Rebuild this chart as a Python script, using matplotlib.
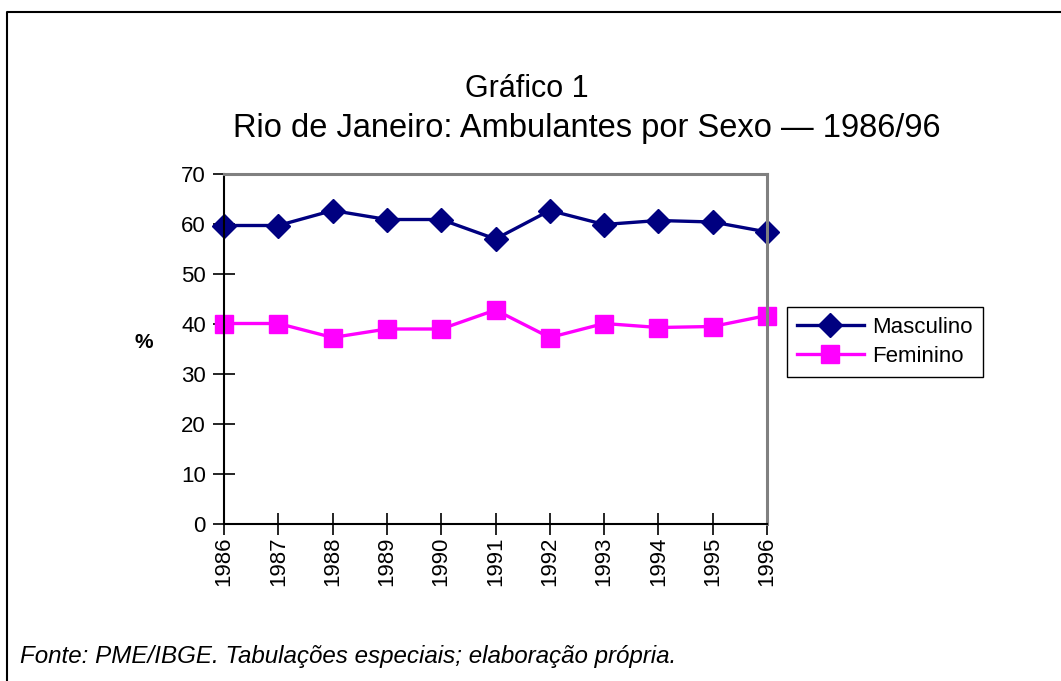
import matplotlib
matplotlib.use("Agg")
import matplotlib.pyplot as plt
from matplotlib.lines import Line2D

years = ["1986", "1987", "1988", "1989", "1990", "1991", "1992", "1993", "1994", "1995", "1996"]
masculino = [59.7, 59.7, 62.7, 60.9, 60.9, 57.0, 62.7, 59.9, 60.7, 60.4, 58.4]
feminino = [40.1, 40.1, 37.3, 39.0, 39.0, 42.8, 37.3, 40.1, 39.3, 39.5, 41.7]
yticks = [0, 10, 20, 30, 40, 50, 60, 70]

plt.rcParams['font.family'] = ['Liberation Sans', 'DejaVu Sans']

W, H = 1061, 681
fig = plt.figure(figsize=(W / 100, H / 100), dpi=100)
ax = fig.add_axes([224 / W, 1 - 524 / H, (767 - 224) / W, (524 - 174) / H])

x = list(range(len(years)))
ax.plot(x, masculino, color='#000080', lw=2.4, marker='D', ms=12, label='Masculino')
ax.plot(x, feminino, color='#FF00FF', lw=2.4, marker='s', ms=13, label='Feminino')

ax.set_xlim(0, len(years) - 1)
ax.set_ylim(0, 70)
ax.set_yticks(yticks)
ax.set_yticklabels([str(v) for v in yticks], fontsize=16)
ax.set_xticks(x)
ax.set_xticklabels(years, rotation=90, fontsize=16)
ax.tick_params(axis='both', direction='inout', length=16, width=1.2, color='black')
ax.tick_params(axis='x', pad=1)
ax.tick_params(axis='y', pad=5)
for s in ['top', 'right']:
    ax.spines[s].set_color('#808080')
    ax.spines[s].set_linewidth(2.2)
for s in ['left', 'bottom']:
    ax.spines[s].set_color('black')
    ax.spines[s].set_linewidth(1.5)
for line in ax.get_lines():
    line.set_clip_on(False)

fig.text(144 / W, 1 - 343 / H, '%', fontsize=15, fontweight='bold', ha='center', va='center')
fig.text(527 / W, 1 - 89 / H, 'Gráfico 1', fontsize=22, ha='center', va='center')
fig.text(587 / W, 1 - 128 / H, 'Rio de Janeiro: Ambulantes por Sexo \u2014 1986/96', fontsize=23.5,
         ha='center', va='center')
fig.text(20 / W, 1 - 656 / H, 'Fonte: PME/IBGE. Tabulações especiais; elaboração própria.',
         fontsize=17.4, style='italic', ha='left', va='center')

handles = [Line2D([], [], color='#000080', lw=2.4, marker='D', ms=12),
           Line2D([], [], color='#FF00FF', lw=2.4, marker='s', ms=13)]
leg = fig.legend(handles, ['Masculino', 'Feminino'], loc='upper left',
                 bbox_to_anchor=(787 / W, 1 - 307 / H), fontsize=16, frameon=True,
                 fancybox=False, edgecolor='black', framealpha=1, borderpad=0.45,
                 handlelength=3.0, handletextpad=0.4, labelspacing=0.35, borderaxespad=0)
leg.get_frame().set_linewidth(1.0)

# outer frame (left and top edges visible)
fig.add_artist(Line2D([7 / W, 7 / W, 1.0], [0.0, 1 - 12 / H, 1 - 12 / H],
                      transform=fig.transFigure, color='black', lw=1.5))

fig.savefig('out.png', dpi=100)
